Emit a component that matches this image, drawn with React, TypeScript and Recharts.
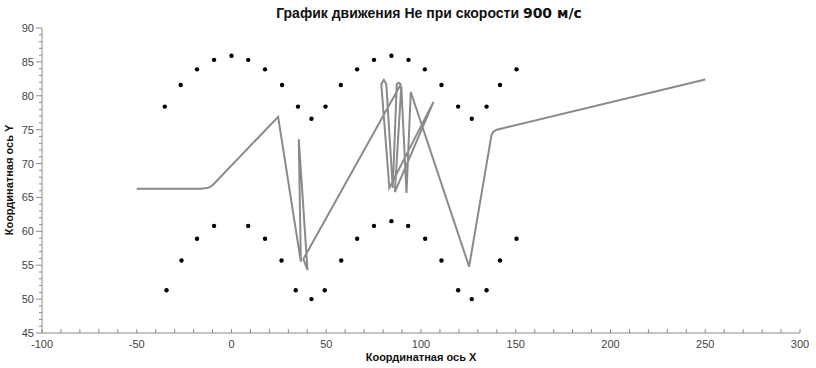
import { ScatterChart, Scatter, XAxis, YAxis } from 'recharts';

// трасса частицы
const pathX = [-50, -16, -12, -10, 24.6, 36.6, 35.5, 40.1, 37.9, 89.3, 88.3, 87.2, 85.1, 81.7, 80.4, 79.05, 83.3, 106.6, 86.2, 89.6, 92.35, 94.6, 125.4, 137.2, 138.2, 140, 250];
const pathY = [66.3, 66.3, 66.45, 66.8, 76.9, 55.5, 73.6, 54.3, 55.9, 81.67, 81.93, 81.74, 66.4, 81.74, 82.33, 81.74, 66.4, 79.1, 65.8, 81.45, 65.66, 80.56, 54.8, 74.2, 74.7, 75.0, 82.4];

// атомы решетки
const upperX = [-35.2, -26.8, -18.2, -9.2, 0, 8.8, 17.7, 26.7, 35.1, 42.2, 49.6, 57.7, 66.3, 75.2, 84.4, 93.4, 102.0, 110.8, 119.6, 126.8, 134.6, 141.7, 150.4];
const upperY = [78.4, 81.6, 83.9, 85.3, 85.9, 85.3, 83.9, 81.6, 78.4, 76.6, 78.4, 81.6, 83.9, 85.3, 85.9, 85.3, 83.9, 81.6, 78.4, 76.6, 78.4, 81.6, 83.9];
const lowerX = [-34.3, -26.4, -18.2, -9.2, 8.8, 17.7, 26.4, 33.9, 42.2, 49.2, 57.9, 66.3, 75.2, 84.4, 93.2, 102.2, 110.8, 119.6, 126.8, 134.6, 141.7, 150.4];
const lowerY = [51.3, 55.7, 58.9, 60.8, 60.8, 58.9, 55.7, 51.3, 50.0, 51.3, 55.7, 58.9, 60.8, 61.5, 60.8, 58.9, 55.7, 51.3, 50.0, 51.3, 55.7, 58.9];

const xMajor = [-100, -50, 0, 50, 100, 150, 200, 250, 300];
const yMajor = [45, 50, 55, 60, 65, 70, 75, 80, 85, 90];

const xTicks: number[] = [];
for (let v = -100; v <= 300; v += 10) xTicks.push(v);
const yTicks: number[] = [];
for (let v = 45; v <= 90; v += 1) yTicks.push(v);

const pathData = pathX.map((x, i) => ({ x, y: pathY[i] }));
const atomData = [
  ...upperX.map((x, i) => ({ x, y: upperY[i] })),
  ...lowerX.map((x, i) => ({ x, y: lowerY[i] })),
];

const axisColor = '#8c8c8c';
const labelFont = 'Liberation Sans, Arial, sans-serif';

const XTick = (props: any) => {
  const { x, y, payload } = props;
  const major = xMajor.includes(payload.value);
  return (
    <g>
      <line x1={x} x2={x} y1={y} y2={y - 4} stroke={axisColor} />
      {major && (
        <text x={x} y={y + 15} textAnchor='middle' fontSize={11} fill='#444' fontFamily={labelFont}>
          {payload.value}
        </text>
      )}
    </g>
  );
};

const YTick = (props: any) => {
  const { x, y, payload } = props;
  const major = yMajor.includes(payload.value);
  return (
    <g>
      <line x1={x} x2={x - (major ? 6 : 3)} y1={y} y2={y} stroke={axisColor} />
      {major && (
        <text x={x - 8} y={y + 4} textAnchor='end' fontSize={11} fill='#444' fontFamily={labelFont}>
          {payload.value}
        </text>
      )}
    </g>
  );
};

const Atom = (props: any) => <circle cx={props.cx} cy={props.cy} r={2.2} fill='#000' />;

const App = () => (
  <div style={{ position: 'absolute', left: 0, top: 0, width: 816, height: 368, background: '#fff' }}>
    <div
      style={{
        position: 'absolute',
        left: 0,
        width: 858,
        top: 5,
        textAlign: 'center',
        fontFamily: labelFont,
        fontWeight: 'bold',
        fontSize: 14,
        color: '#111',
        whiteSpace: 'nowrap',
      }}
    >
      График движения Не при скорости <span style={{ fontFamily: 'DejaVu Sans, Verdana, sans-serif', fontSize: 14 }}>900 м/с</span>
    </div>
    <div
      style={{
        position: 'absolute',
        left: 421,
        top: 351,
        transform: 'translateX(-50%)',
        fontFamily: labelFont,
        fontWeight: 'bold',
        fontSize: 11,
        whiteSpace: 'nowrap',
        color: '#111',
      }}
    >
      Координатная ось X
    </div>
    <div
      style={{
        position: 'absolute',
        left: 9,
        top: 180,
        transform: 'translate(-50%, -50%) rotate(-90deg)',
        fontFamily: labelFont,
        fontWeight: 'bold',
        fontSize: 11,
        whiteSpace: 'nowrap',
        color: '#111',
      }}
    >
      Координатная ось Y
    </div>
    <ScatterChart width={816} height={368} margin={{ top: 28, right: 16, bottom: 0, left: 0 }}>
      <XAxis
        type='number'
        dataKey='x'
        domain={[-100, 300]}
        ticks={xTicks}
        interval={0}
        tick={<XTick />}
        tickLine={false}
        tickSize={0}
        tickMargin={0}
        height={35}
        axisLine={{ stroke: axisColor }}
        allowDataOverflow
      />
      <YAxis
        type='number'
        dataKey='y'
        domain={[45, 90]}
        ticks={yTicks}
        interval={0}
        tick={<YTick />}
        tickLine={false}
        tickSize={0}
        tickMargin={0}
        width={42}
        axisLine={{ stroke: axisColor }}
        allowDataOverflow
      />
      <Scatter
        data={pathData}
        line={{ stroke: '#8a8a8a', strokeWidth: 2 }}
        shape={() => <g />}
        isAnimationActive={false}
      />
      <Scatter data={atomData} shape={<Atom />} isAnimationActive={false} />
    </ScatterChart>
  </div>
);

export default App;
